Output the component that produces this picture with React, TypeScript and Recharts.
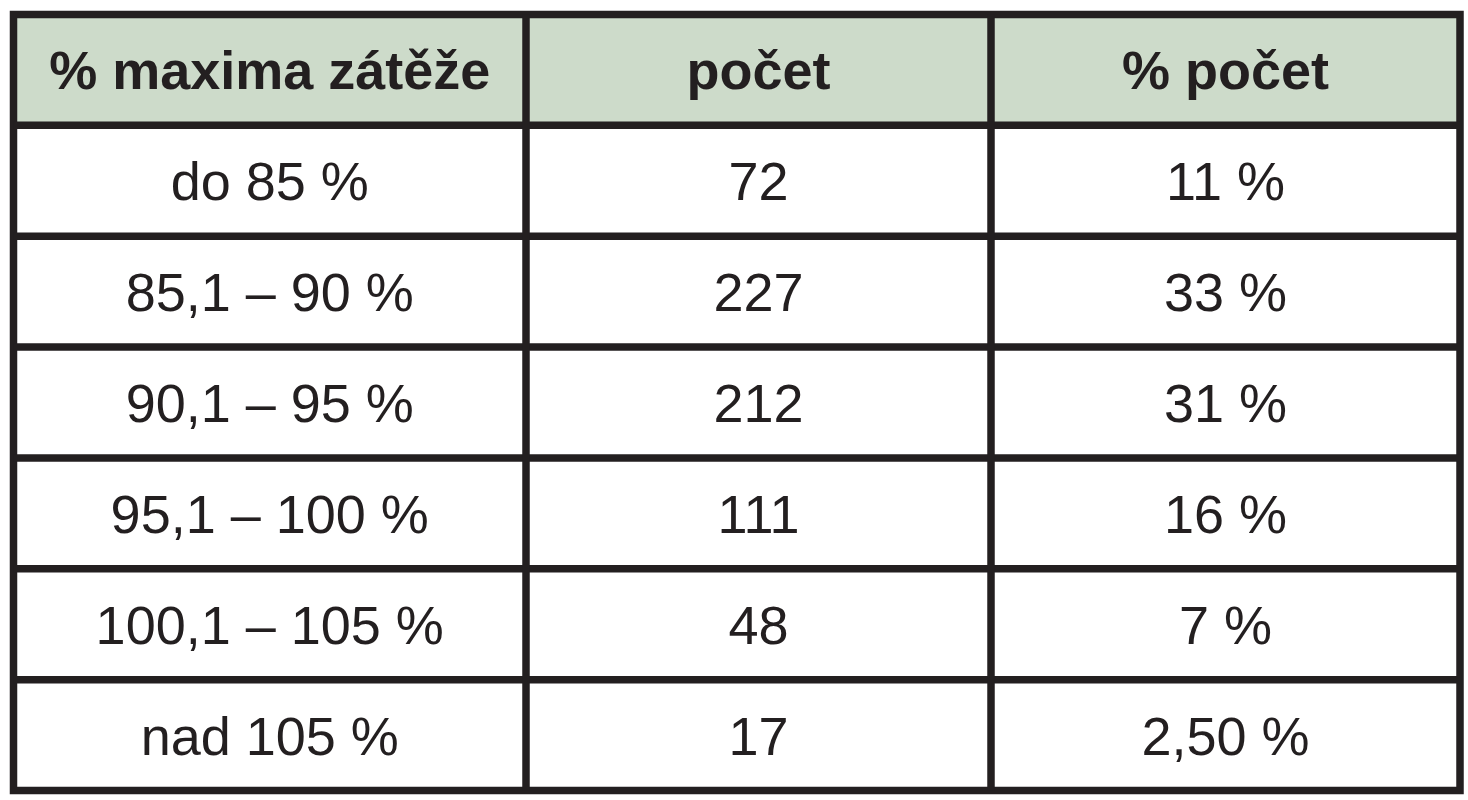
import {
	ComposedChart,
	ReferenceArea,
	ReferenceLine,
	Scatter,
	XAxis,
	YAxis,
} from "recharts";

// table content
const headers = ["% maxima zátěže", "počet", "% počet"];
const loadRanges = [
	"do 85 %",
	"85,1 – 90 %",
	"90,1 – 95 %",
	"95,1 – 100 %",
	"100,1 – 105 %",
	"nad 105 %",
];
const counts = [72, 227, 212, 111, 48, 17];
const countShares = ["11 %", "33 %", "31 %", "16 %", "7 %", "2,50 %"];

// layout (relative column widths, in px of the plot area)
const COL_WIDTHS = [512.5, 465, 469];
const LINE = "#231f20";
const HEADER_BG = "#cddbca";
const FONT = "'Liberation Sans', Arial, sans-serif";
const FONT_SIZE = 54;

const colEdges = COL_WIDTHS.reduce<number[]>(
	(acc, w) => [...acc, acc[acc.length - 1] + w],
	[0],
);
const totalWidth = colEdges[colEdges.length - 1];
const rowCount = loadRanges.length + 1;
const colCenter = (i: number) => (colEdges[i] + colEdges[i + 1]) / 2;

interface CellPoint {
	x: number;
	y: number;
	text: string;
	bold: boolean;
}

const cells: CellPoint[] = [
	...headers.map((h, c) => ({ x: colCenter(c), y: 0.5, text: h, bold: true })),
	...loadRanges.flatMap((range, r) => [
		{ x: colCenter(0), y: r + 1.5, text: range, bold: false },
		{ x: colCenter(1), y: r + 1.5, text: String(counts[r]), bold: false },
		{ x: colCenter(2), y: r + 1.5, text: countShares[r], bold: false },
	]),
];

function CellText(props: any) {
	const { cx, cy, payload } = props;
	return (
		<text
			x={cx}
			y={cy}
			dy={FONT_SIZE * 0.36}
			textAnchor="middle"
			fontFamily={FONT}
			fontSize={FONT_SIZE}
			fontWeight={payload.bold ? 700 : 400}
			fill={LINE}
		>
			{payload.text}
		</text>
	);
}

export default function App() {
	return (
		<div style={{ position: "absolute", left: 0, top: 0, background: "#fff" }}>
			<ComposedChart
				width={1468}
				height={800}
				data={cells}
				margin={{ top: 14.5, right: 8, bottom: 9.5, left: 13.5 }}
			>
				<XAxis type="number" dataKey="x" domain={[0, totalWidth]} hide />
				<YAxis type="number" dataKey="y" domain={[0, rowCount]} reversed hide />
				<ReferenceArea
					x1={0}
					x2={totalWidth}
					y1={0}
					y2={1}
					fill={HEADER_BG}
					fillOpacity={1}
					stroke="none"
				/>
				{Array.from({ length: rowCount - 1 }, (_, i) => (
					<ReferenceLine
						key={`h${i}`}
						y={i + 1}
						stroke={LINE}
						strokeWidth={7.5}
					/>
				))}
				{colEdges.slice(1, -1).map((x) => (
					<ReferenceLine key={`v${x}`} x={x} stroke={LINE} strokeWidth={7.5} />
				))}
				<ReferenceArea
					x1={0}
					x2={totalWidth}
					y1={0}
					y2={rowCount}
					fill="none"
					stroke={LINE}
					strokeWidth={7.5}
				/>
				<Scatter
					data={cells}
					dataKey="y"
					shape={<CellText />}
					isAnimationActive={false}
				/>
			</ComposedChart>
		</div>
	);
}
